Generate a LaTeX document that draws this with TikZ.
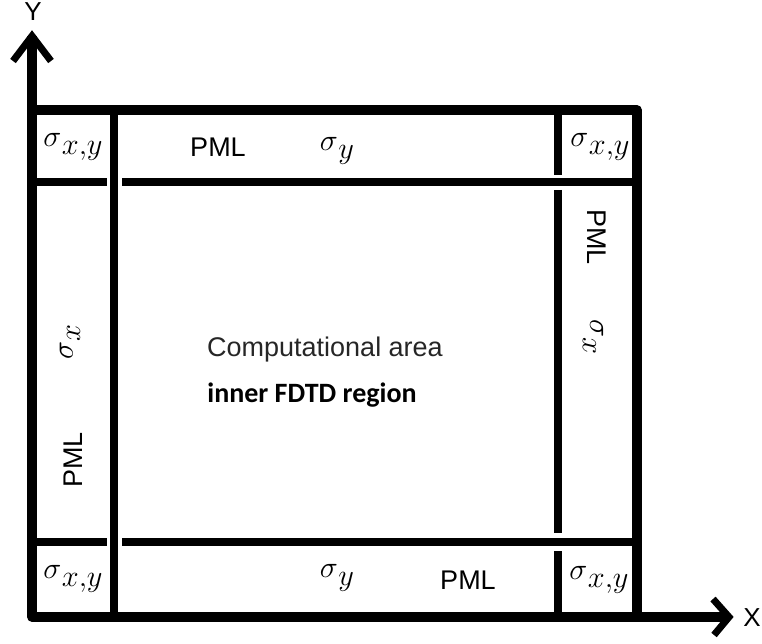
\documentclass[tikz,border=0pt]{standalone}
\usepackage{fontspec}
\setmainfont{Liberation Sans}
\newfontfamily\calib{Carlito}
\newcommand\sgm[1]{\scalebox{1.22}{$\sigma$\kern0.4pt\raisebox{-6pt}{$#1$}}}
\begin{document}
\begin{tikzpicture}[x=1pt,y=-1pt,
  outer/.style={line width=9.5pt,line join=round},
  inner/.style={line width=8.5pt},
  arrowchev/.style={line width=7pt,line join=miter,line cap=butt},
  lab/.style={inner sep=0pt,font=\fontsize{27}{30}\selectfont},
  sig/.style={inner sep=0pt,font=\fontsize{24.88}{30}\selectfont},
  axlab/.style={inner sep=0pt,font=\fontsize{26}{28}\selectfont}]
\useasboundingbox (0,0) rectangle (762,644);
% key coordinates
\coordinate (O) at (32,617);
\coordinate (Ytip) at (32,36);
\coordinate (Xtip) at (729,617);
\coordinate (TL) at (32,110);
\coordinate (TR) at (637,110);
\coordinate (BR) at (637,617);
% axes and outer box
\draw[outer] (Ytip) -- (O) -- (Xtip);
\draw[outer] (TL) -- (TR) -- (BR);
\draw[arrowchev] (13,61) -- (Ytip) -- (51,61);
\draw[arrowchev] (713,599) -- (Xtip) -- (714,635);
% inner lines
\coordinate (v1t) at (114,110);
\coordinate (v1b) at (114,617);
\draw[inner] (v1t) -- (v1b);
\coordinate (h1a) at (32,182); \coordinate (h1b) at (107,182);
\coordinate (h1c) at (122,182); \coordinate (h1d) at (637,182);
\draw[inner] (h1a) -- (h1b);
\draw[inner] (h1c) -- (h1d);
\coordinate (h2a) at (32,542); \coordinate (h2b) at (107,542);
\coordinate (h2c) at (122,542); \coordinate (h2d) at (637,542);
\draw[inner] (h2a) -- (h2b);
\draw[inner] (h2c) -- (h2d);
\coordinate (v2a) at (558,110); \coordinate (v2b) at (558,175);
\coordinate (v2c) at (558,190); \coordinate (v2d) at (558,533);
\coordinate (v2e) at (558,551); \coordinate (v2f) at (558,617);
\draw[inner] (v2a) -- (v2b);
\draw[inner] (v2c) -- (v2d);
\draw[inner] (v2e) -- (v2f);
% axis labels
\node[axlab] (ylab) at (33,12) {Y};
\node[axlab] (xlab) at (752,618) {X};
% corner sigmas
\node[sig] (stl) at (73,147) {\sgm{x{,}y}};
\node[sig] (str) at (600,147) {\sgm{x{,}y}};
\node[sig] (sbl) at (73,579) {\sgm{x{,}y}};
\node[sig] (sbr) at (599,580) {\sgm{x{,}y}};
% top and bottom strips
\node[lab] (pmlt) at (218,147) {PML};
\node[sig] (syt) at (337,151) {\sgm{y}};
\node[sig] (syb) at (337,578) {\sgm{y}};
\node[lab] (pmlb) at (468,580) {PML};
% left and right strips
\node[sig,rotate=90] (sxl) at (70,342) {\sgm{x}};
\node[lab,rotate=90] (pmll) at (73,460) {PML};
\node[lab,rotate=-90] (pmlr) at (597,237) {PML};
\node[sig,rotate=-90] (sxr) at (593,337) {\sgm{x}};
% centre
\node[lab,text=black!85] (comp) at (325,350) {Computational area};
\node[inner sep=0pt,font=\calib\bfseries\fontsize{28}{30}\selectfont] (fdtd) at (312,395) {inner FDTD region};
\end{tikzpicture}
\end{document}
